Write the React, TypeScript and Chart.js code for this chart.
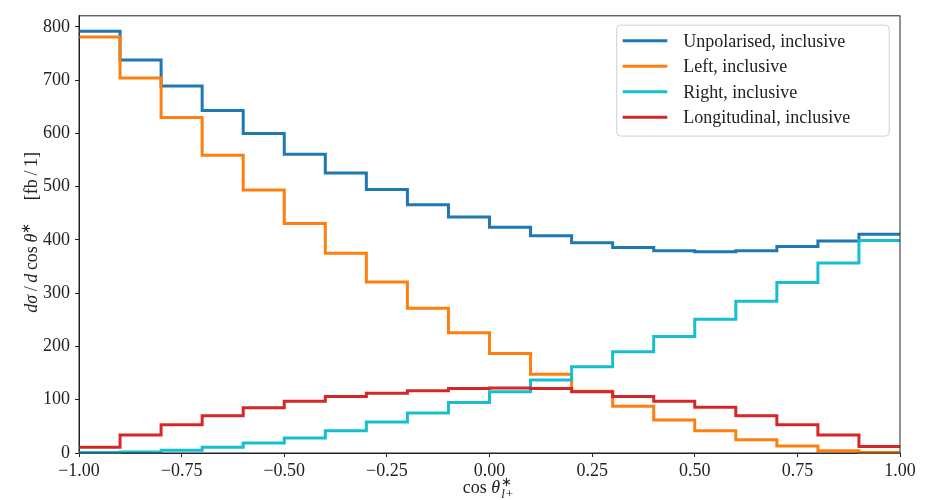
import React, { useEffect, useRef } from "react";
import { Chart, registerables } from "chart.js";

Chart.register(...registerables);

// Bin edges of cos(theta*_{l+})
const EDGES = [-1.0, -0.9, -0.8, -0.7, -0.6, -0.5, -0.4, -0.3, -0.2, -0.1, 0.0, 0.1, 0.2, 0.3, 0.4, 0.5, 0.6, 0.7, 0.8, 0.9, 1.0];

// Bin contents dσ/dcosθ* [fb/1]
const UNPOLARISED = [792, 738, 689, 643, 600, 561, 526, 495, 466, 443, 424, 408, 395, 386, 380, 378, 380, 388, 398, 411];
const LEFT = [781, 704, 630, 559, 494, 431, 375, 321, 272, 226, 187, 148, 116, 88, 62, 42, 25, 13, 4, 1];
const RIGHT = [1, 2, 5, 11, 19, 28, 42, 58, 75, 95, 115, 137, 162, 190, 219, 251, 285, 320, 357, 399];
const LONGITUDINAL = [11, 34, 53, 70, 85, 97, 106, 112, 117, 121, 122, 121, 115, 106, 97, 86, 70, 53, 34, 12];

const SERIES_LABELS = ["Unpolarised, inclusive", "Left, inclusive", "Right, inclusive", "Longitudinal, inclusive"];
const SERIES_COLORS = ["#1f77b4", "#ff7f0e", "#17becf", "#d62728"];

const X_TICKS = [-1.0, -0.75, -0.5, -0.25, 0.0, 0.25, 0.5, 0.75, 1.0];
const Y_TICKS = [0, 100, 200, 300, 400, 500, 600, 700, 800];
const Y_MAX = 821;

const FONT = "'Liberation Serif', 'Times New Roman', serif";
const INK = "#222222";

function stepPoints(values: number[]) {
  const pts = values.map((v, i) => ({ x: EDGES[i], y: v }));
  pts.push({ x: EDGES[EDGES.length - 1], y: values[values.length - 1] });
  return pts;
}

type Part = { t: string; italic?: boolean; size: number; dy?: number };

function partFont(p: Part) {
  return `${p.italic ? "italic " : ""}${p.size}px ${FONT}`;
}

function measureParts(ctx: CanvasRenderingContext2D, parts: Part[]) {
  let w = 0;
  for (const p of parts) {
    ctx.font = partFont(p);
    w += ctx.measureText(p.t).width;
  }
  return w;
}

function drawParts(ctx: CanvasRenderingContext2D, parts: Part[], cx: number, baseline: number) {
  const total = measureParts(ctx, parts);
  let x = cx - total / 2;
  ctx.textAlign = "left";
  ctx.textBaseline = "alphabetic";
  for (const p of parts) {
    ctx.font = partFont(p);
    ctx.fillText(p.t, x, baseline + (p.dy || 0));
    x += ctx.measureText(p.t).width;
  }
  return x;
}

const decorPlugin = {
  id: "decor",
  afterDatasetsDraw(chart: any) {
    const { ctx, chartArea } = chart;
    ctx.save();
    ctx.strokeStyle = INK;
    ctx.lineWidth = 1;
    ctx.strokeRect(chartArea.left, chartArea.top, chartArea.right - chartArea.left, chartArea.bottom - chartArea.top);
    ctx.restore();
  },
  afterDraw(chart: any) {
    const { ctx, chartArea } = chart;
    ctx.save();
    ctx.fillStyle = INK;

    // x-axis title: cos θ*_{l+}
    const cx = (chartArea.left + chartArea.right) / 2;
    const xParts: Part[] = [
      { t: "cos ", size: 18 },
      { t: "θ", italic: true, size: 18 },
    ];
    const startSub = drawParts(ctx, xParts, cx - 8, 493);
    ctx.font = `13px ${FONT}`;
    ctx.fillText("∗", startSub + 1, 486);
    ctx.font = `italic 13px ${FONT}`;
    ctx.fillText("l", startSub + 1, 498);
    const wl = ctx.measureText("l").width;
    ctx.font = `13px ${FONT}`;
    ctx.fillText("+", startSub + 1 + wl + 1, 498);

    // y-axis title rotated
    const cy = (chartArea.top + chartArea.bottom) / 2;
    ctx.translate(37, cy - 2);
    ctx.rotate(-Math.PI / 2);
    const yParts: Part[] = [
      { t: "d", italic: true, size: 18 },
      { t: "σ", italic: true, size: 18 },
      { t: "\u2009/\u2009", size: 18 },
      { t: "d", italic: true, size: 18 },
      { t: "\u2009cos\u2009", size: 18 },
      { t: "θ", italic: true, size: 18 },
      { t: "∗", size: 13, dy: -7 },
      { t: "     [fb\u2009/\u20091]", size: 18 },
    ];
    drawParts(ctx, yParts, 0, 0);
    ctx.restore();

    // legend
    ctx.save();
    const boxRight = chartArea.right - 10.7;
    const boxLeft = boxRight - 272.6;
    const boxTop = chartArea.top + 9.3;
    const boxBottom = boxTop + 111;
    const r = 4;
    ctx.beginPath();
    ctx.moveTo(boxLeft + r, boxTop);
    ctx.lineTo(boxRight - r, boxTop);
    ctx.quadraticCurveTo(boxRight, boxTop, boxRight, boxTop + r);
    ctx.lineTo(boxRight, boxBottom - r);
    ctx.quadraticCurveTo(boxRight, boxBottom, boxRight - r, boxBottom);
    ctx.lineTo(boxLeft + r, boxBottom);
    ctx.quadraticCurveTo(boxLeft, boxBottom, boxLeft, boxBottom - r);
    ctx.lineTo(boxLeft, boxTop + r);
    ctx.quadraticCurveTo(boxLeft, boxTop, boxLeft + r, boxTop);
    ctx.closePath();
    ctx.fillStyle = "rgba(255,255,255,0.8)";
    ctx.fill();
    ctx.strokeStyle = "#d0d0d0";
    ctx.lineWidth = 1;
    ctx.stroke();

    const datasets = chart.data.datasets;
    ctx.font = `18px ${FONT}`;
    ctx.textBaseline = "middle";
    ctx.textAlign = "left";
    datasets.forEach((ds: any, i: number) => {
      const y = boxTop + 15.7 + i * 25.5;
      ctx.strokeStyle = ds.borderColor;
      ctx.lineWidth = 3;
      ctx.beginPath();
      ctx.moveTo(boxLeft + 6, y);
      ctx.lineTo(boxLeft + 50.6, y);
      ctx.stroke();
      ctx.fillStyle = INK;
      ctx.fillText(ds.label, boxLeft + 66.6, y + 1);
    });
    ctx.restore();
  },
};

export default function App() {
  const canvasRef = useRef<HTMLCanvasElement | null>(null);

  useEffect(() => {
    const canvas = canvasRef.current;
    if (!canvas) return;
    const seriesValues = [UNPOLARISED, LEFT, RIGHT, LONGITUDINAL];
    const chart = new Chart(canvas, {
      type: "line",
      data: {
        datasets: seriesValues.map((vals, i) => ({
          label: SERIES_LABELS[i],
          data: stepPoints(vals),
          borderColor: SERIES_COLORS[i],
          backgroundColor: SERIES_COLORS[i],
          borderWidth: 3,
          pointRadius: 0,
          fill: false,
          stepped: "before" as const,
          borderJoinStyle: "miter" as const,
          borderCapStyle: "butt" as const,
          order: seriesValues.length - 1 - i,
        })),
      },
      options: {
        animation: false,
        responsive: false,
        devicePixelRatio: 1,
        clip: false as any,
        layout: { padding: { left: 0, right: 30, top: 6, bottom: 0 } },
        plugins: {
          legend: { display: false },
          tooltip: { enabled: false },
        },
        scales: {
          x: {
            type: "linear",
            min: -1,
            max: 1,
            afterBuildTicks: (scale: any) => {
              scale.ticks = X_TICKS.map((v) => ({ value: v }));
            },
            afterFit: (scale: any) => {
              scale.height = 47;
            },
            ticks: {
              autoSkip: false,
              maxRotation: 0,
              padding: 3,
              color: INK,
              font: { family: FONT, size: 18 },
              callback: (v: any) => Number(v).toFixed(2).replace("-", "−"),
            },
            grid: {
              display: true,
              drawOnChartArea: false,
              drawTicks: true,
              tickLength: 4,
              tickColor: INK,
              color: INK,
            },
            border: { display: true, color: INK, width: 1 },
          },
          y: {
            type: "linear",
            min: 0,
            max: Y_MAX,
            afterBuildTicks: (scale: any) => {
              scale.ticks = Y_TICKS.map((v) => ({ value: v }));
            },
            afterFit: (scale: any) => {
              scale.width = 79;
            },
            ticks: {
              autoSkip: false,
              padding: 5,
              color: INK,
              font: { family: FONT, size: 18 },
              callback: (v: any) => String(v),
            },
            grid: {
              display: true,
              drawOnChartArea: false,
              drawTicks: true,
              tickLength: 4,
              tickColor: INK,
              color: INK,
            },
            border: { display: true, color: INK, width: 1 },
          },
        },
      },
      plugins: [decorPlugin],
    });
    return () => chart.destroy();
  }, []);

  return (
    <div style={{ position: "absolute", left: 0, top: 0, width: 930, height: 500, background: "#fff" }}>
      <canvas ref={canvasRef} width={930} height={500} style={{ width: 930, height: 500, display: "block" }} />
    </div>
  );
}
